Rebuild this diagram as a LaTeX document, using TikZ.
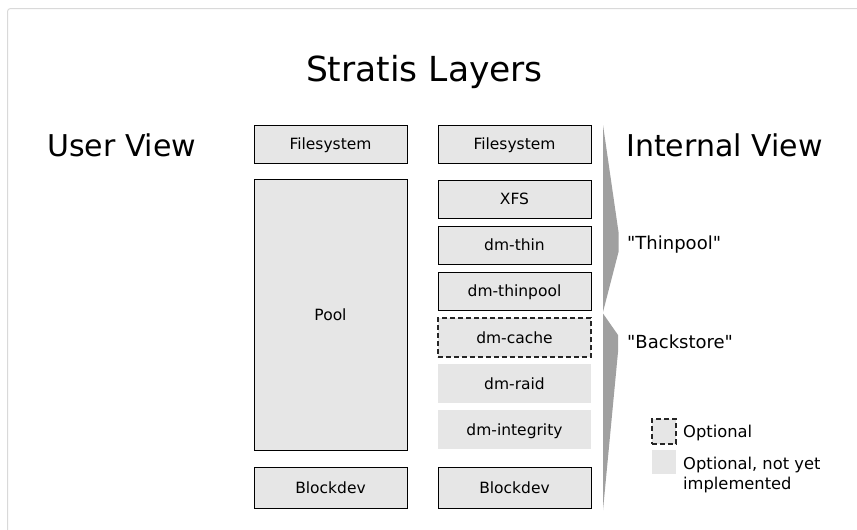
\documentclass[tikz,border=0pt]{standalone}
\usepackage{fontspec}
\setmainfont{DejaVu Sans}
\definecolor{boxgray}{HTML}{E6E6E6}
\definecolor{bracegray}{HTML}{A0A0A0}
\definecolor{framegray}{HTML}{D9D9D9}
\newcommand{\strq}{\XeTeXglyph\XeTeXcharglyph"22\relax}
\begin{document}
\begin{tikzpicture}[x=1pt,y=-1pt,
  layer/.style={draw=black, line width=1pt, fill=boxgray, inner sep=0pt,
    minimum width=153pt, text height=11.3pt, text depth=0pt,
    font=\fontsize{15.5}{18}\selectfont},
  optlayer/.style={layer, draw=black!85, line width=1.3pt, dash pattern=on 5pt off 3pt},
  niylayer/.style={layer, draw=none},
  bigtext/.style={inner sep=0pt, font=\fontsize{30}{36}\selectfont},
  quotetext/.style={inner sep=0pt, font=\fontsize{18}{22}\selectfont},
  legtext/.style={inner sep=0pt, font=\fontsize{16.3}{20}\selectfont},
  brace/.style={fill=bracegray, draw=none}]
\useasboundingbox (0,0) rectangle (857,530);
\fill[white] (0,0) rectangle (857,530);
\draw[framegray, line width=1pt, rounded corners=3pt] (7.5,545) -- (7.5,8.5) -- (880,8.5);

\node[inner sep=0pt, font=\fontsize{34.5}{40}\selectfont, anchor=base] (title) at (424.5,81) {Stratis Layers};
\node[bigtext, anchor=base west] (user) at (47,156) {User View};
\node[bigtext, anchor=base west] (internal) at (626,156) {Internal View};

% left column
\node[layer, minimum height=38pt] (lfs) at (330.5,144) {Filesystem};
\node[layer, minimum height=271pt] (pool) at (330.5,314.5) {Pool};
\node[layer, minimum height=41pt] (lbd) at (330.5,487.5) {Blockdev};

% right column
\node[layer, minimum height=38pt] (rfs) at (514.5,144) {Filesystem};
\node[layer, minimum height=38pt] (xfs) at (514.5,199) {XFS};
\node[layer, minimum height=38pt] (thin) at (514.5,245) {dm-thin};
\node[layer, minimum height=38pt] (thinpool) at (514.5,291) {dm-thinpool};
\node[optlayer, minimum height=39pt] (cache) at (514.5,337.5) {dm-cache};
\node[niylayer, minimum height=39pt] (raid) at (514.5,383.5) {dm-raid};
\node[niylayer, minimum height=39pt] (integrity) at (514.5,429.5) {dm-integrity};
\node[layer, minimum height=41pt] (rbd) at (514.5,487.5) {Blockdev};

% braces
\fill[brace] (603,125) -- (618.5,232) -- (618.5,252) -- (603,312) -- cycle;
\fill[brace] (603,313.5) -- (618,335) -- (618,352) -- (603,510) -- cycle;

\node[quotetext, anchor=base west] (tplabel) at (627,249) {\strq Thinpool\strq};
\node[quotetext, anchor=base west] (bslabel) at (627,348) {\strq Backstore\strq};

% legend
\node[optlayer, minimum width=24pt, minimum height=25pt, text height=0pt] (legopt) at (664,431.5) {};
\node[niylayer, minimum width=24pt, minimum height=24pt, text height=0pt] (legniy) at (664,462) {};
\node[legtext, anchor=base west] (legopttext) at (683,437) {Optional};
\node[legtext, anchor=base west] (legniytext) at (683,469) {Optional, not yet};
\node[legtext, anchor=base west] (legniytext2) at (683,489) {implemented};
\end{tikzpicture}
\end{document}
